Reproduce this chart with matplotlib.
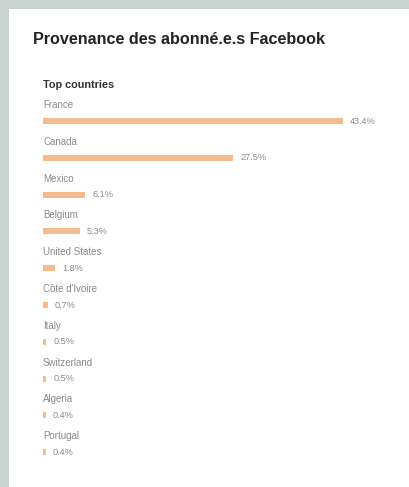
import numpy as np
import matplotlib
matplotlib.use('Agg')
import matplotlib.pyplot as plt
from matplotlib.patches import Rectangle

plt.rcParams['font.family'] = ['Liberation Sans', 'DejaVu Sans']

countries = ['France', 'Canada', 'Mexico', 'Belgium', 'United States',
             "Côte d'Ivoire", 'Italy', 'Switzerland', 'Algeria', 'Portugal']
shares = [43.4, 27.5, 6.1, 5.3, 1.8, 0.7, 0.5, 0.5, 0.4, 0.4]

W, H = 409, 487
fig = plt.figure(figsize=(W / 100, H / 100), dpi=100)
fig.patch.set_facecolor('#c9d3ce')

# white card
fig.patches.append(Rectangle((9 / W, 0), 1, 1 - 9 / H, transform=fig.transFigure,
                             facecolor='white', edgecolor='none', zorder=-5))

fig.text(33 / W, 1 - 40 / H, 'Provenance des abonné.e.s Facebook',
         fontsize=11.6, fontweight='bold', color='#222222', va='center')
fig.text(43 / W, 1 - 85 / H, 'Top countries', fontsize=7.8, fontweight='bold',
         color='#333333', va='center')

# axes: x in percent, y in pixels from the top
ax = fig.add_axes([43 / W, 0, 300 / W, 1])
ax.set_xlim(0, max(shares))
ax.set_ylim(H, 0)
ax.axis('off')

y0, step = 121, 36.8
ys = y0 + step * np.arange(len(countries))
ax.barh(ys, shares, height=6, color='#f6bb8c', edgecolor='none')

for y, name, v in zip(ys, countries, shares):
    ax.text(0, y - 16, name, fontsize=7, color='#8a8a8a', va='center', clip_on=False)
    ax.annotate(f'{v}%', (v, y), xytext=(5, 0), textcoords='offset points',
                fontsize=6.6, color='#8a8a8a', va='center')

fig.savefig('out.png', dpi=100, facecolor=fig.get_facecolor())
